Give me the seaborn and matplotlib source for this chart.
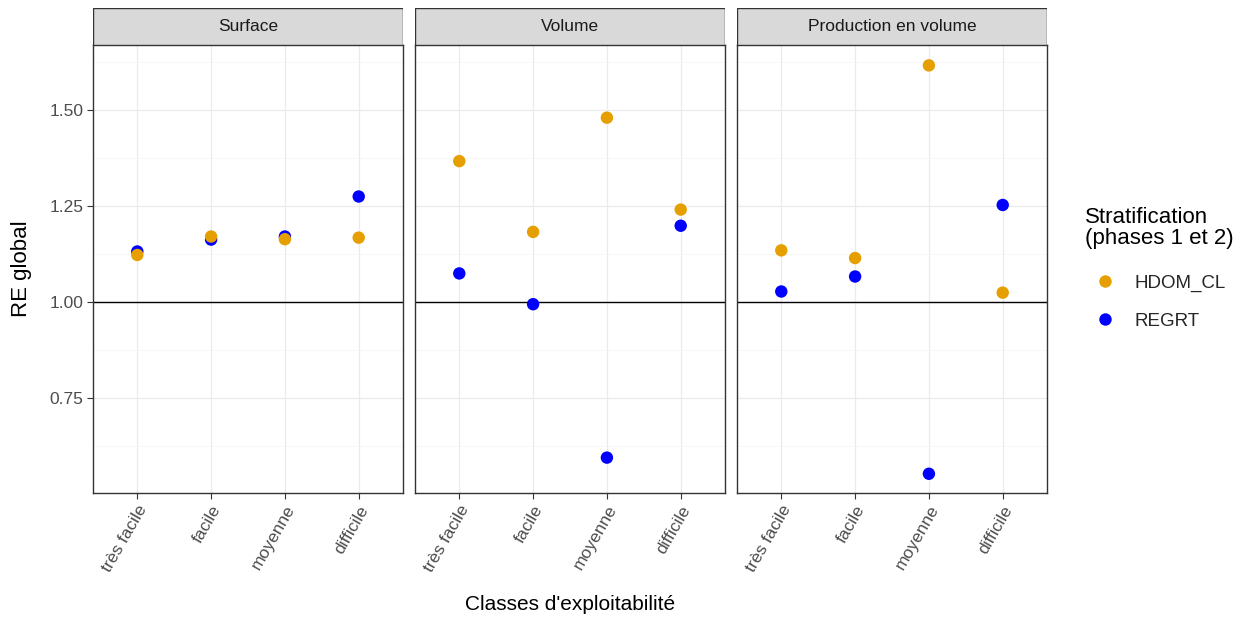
import matplotlib
matplotlib.use("Agg")
import matplotlib.pyplot as plt
from matplotlib.patches import Rectangle
import pandas as pd
import seaborn as sns

# --- data ---
panels = ["Surface", "Volume", "Production en volume"]
classes = ["très facile", "facile", "moyenne", "difficile"]
strat_order = ["HDOM_CL", "REGRT"]

hdom_surface = [1.122, 1.170, 1.163, 1.167]
regrt_surface = [1.131, 1.162, 1.170, 1.274]
hdom_volume = [1.366, 1.182, 1.479, 1.240]
regrt_volume = [1.074, 0.994, 0.595, 1.198]
hdom_prod = [1.134, 1.114, 1.615, 1.024]
regrt_prod = [1.027, 1.066, 0.553, 1.252]

colors = {"HDOM_CL": "#E69F00", "REGRT": "#0000FF"}

values = {
    "Surface": {"HDOM_CL": hdom_surface, "REGRT": regrt_surface},
    "Volume": {"HDOM_CL": hdom_volume, "REGRT": regrt_volume},
    "Production en volume": {"HDOM_CL": hdom_prod, "REGRT": regrt_prod},
}

rows = []
for p in panels:
    # REGRT first so orange points sit on top, as in the reference
    for s in ["REGRT", "HDOM_CL"]:
        for c, v in zip(classes, values[p][s]):
            rows.append({"panel": p, "classe": c, "strat": s, "re": v})
df = pd.DataFrame(rows)

sns.set_theme(style="white")
plt.rcParams["font.family"] = ["Liberation Sans", "DejaVu Sans"]

W, H = 1254, 620
fig = plt.figure(figsize=(W / 100, H / 100), dpi=100)

lefts = [93, 415, 737]
pw = 310
top, bottom, strip_top = 45, 493, 8

handles, labels = None, None
for i, p in enumerate(panels):
    ax = fig.add_axes([lefts[i] / W, 1 - bottom / H, pw / W, (bottom - top) / H])
    sub = df[df["panel"] == p].copy()
    sub["x"] = sub["classe"].map({c: k for k, c in enumerate(classes)})
    sns.scatterplot(data=sub, x="x", y="re", hue="strat", hue_order=strat_order,
                    palette=colors, s=80, linewidth=0, ax=ax, zorder=3)
    h, l = ax.get_legend_handles_labels()
    if handles is None:
        handles, labels = h, l
    ax.get_legend().remove()

    ax.set_xlim(-0.6, 3.6)
    ax.set_ylim(0.503, 1.668)
    ax.set_xticks(range(4))
    ax.set_xticklabels(classes, rotation=60, ha="right", va="top",
                       rotation_mode="anchor", fontsize=12.5, color="#4D4D4D")
    ax.set_yticks([0.75, 1.00, 1.25, 1.50])
    ax.set_yticks([0.625, 0.875, 1.125, 1.375, 1.625], minor=True)
    ax.set_xticks([0.5, 1.5, 2.5], minor=True)
    if i == 0:
        ax.set_yticklabels(["0.75", "1.00", "1.25", "1.50"], fontsize=12.5, color="#4D4D4D")
    else:
        ax.set_yticklabels([])
        ax.tick_params(axis="y", length=0)
    ax.grid(True, which="major", color="#EBEBEB", linewidth=0.9, zorder=0)
    ax.grid(True, which="minor", axis="y", color="#F4F4F4", linewidth=0.5, zorder=0)
    ax.tick_params(axis="both", which="major", direction="out", length=4, width=0.8,
                   color="#333333", pad=3, left=(i == 0), bottom=True)
    ax.tick_params(which="minor", length=0)
    ax.axhline(1.0, color="black", linewidth=1.0, zorder=2)
    for sp in ax.spines.values():
        sp.set_color("#333333")
        sp.set_linewidth(1.0)
    ax.set_xlabel("")
    ax.set_ylabel("")

    # strip header
    sax = fig.add_axes([lefts[i] / W, 1 - top / H, pw / W, (top - strip_top) / H])
    sax.add_patch(Rectangle((0, 0), 1, 1, transform=sax.transAxes,
                            facecolor="#D9D9D9", edgecolor="#333333", linewidth=1.0))
    sax.text(0.5, 0.5, p, ha="center", va="center", fontsize=12.5, color="#1A1A1A",
             transform=sax.transAxes)
    sax.set_axis_off()

fig.text(22 / W, 1 - 269 / H, "RE global", rotation=90, ha="center", va="center",
         fontsize=16, color="black")
fig.text(570 / W, 1 - 605 / H, "Classes d'exploitabilité", ha="center", va="center",
         fontsize=15, color="black")

fig.text(1085 / W, 1 - 228 / H, "Stratification\n(phases 1 et 2)", ha="left",
         va="center", fontsize=16, color="black", linespacing=1.05)
leg = fig.legend(handles, labels, loc="upper left",
                 bbox_to_anchor=(1069 / W, 1 - 258 / H), frameon=False,
                 fontsize=13.5, handletextpad=0.6, labelspacing=1.1,
                 markerscale=1.0)

fig.savefig("out.png", dpi=100, facecolor="white")
